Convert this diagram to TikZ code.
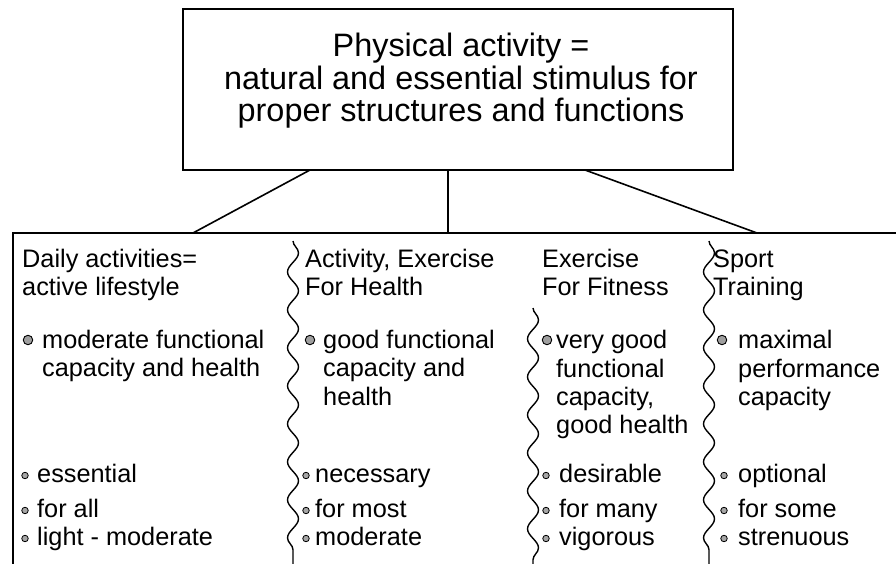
\documentclass[tikz,border=0pt]{standalone}
\usepackage{fontspec}
\setmainfont{Liberation Sans}
\usetikzlibrary{decorations.pathmorphing}

\tikzset{
  rule/.style={line width=1.6pt},
  topbox/.style={draw, rule, minimum width=550pt, minimum height=161pt, inner sep=0pt},
  ttl/.style={font=\fontsize{32.4}{32.4}\selectfont, anchor=base, inner sep=0pt},
  txt/.style={font=\fontsize{25.3}{28.5}\selectfont, anchor=base west, inner sep=0pt},
  bigdot/.style={circle, draw, fill=gray!75, line width=0.9pt, minimum size=9.5pt, inner sep=0pt},
  smalldot/.style={circle, draw, fill=gray!70, line width=0.8pt, minimum size=6.5pt, inner sep=0pt},
  wave/.style={line width=1.4pt, decorate,
    decoration={snake, amplitude=5.5pt, segment length=38pt}},
}

\begin{document}
\begin{tikzpicture}[x=1pt, y=-1pt]
\useasboundingbox (0,0) rectangle (896,564);

% heading box
\node[topbox] (top) at (458,89.5) {};
\node[ttl] (t1) at (461,57)  {Physical activity =};
\node[ttl] (t2) at (461,90)  {natural and essential stimulus for};
\node[ttl] (t3) at (461,122) {proper structures and functions};

% frame of the four columns (open to the right and below)
\coordinate (fbl) at (13,564);
\coordinate (ftl) at (13,233);
\coordinate (ftr) at (896,233);
\draw[rule] (fbl) -- (ftl) -- (ftr);

% connectors from the heading box to the frame
\coordinate (u1) at (310,170);
\coordinate (u2) at (448,170);
\coordinate (u3) at (585,170);
\coordinate (v1) at (193,233);
\coordinate (v2) at (448,233);
\coordinate (v3) at (757,233);
\draw[rule] (u1) -- (v1);
\draw[rule] (u2) -- (v2);
\draw[rule] (u3) -- (v3);

% wavy column dividers
\coordinate (wa1) at (293,241);
\coordinate (wa2) at (293,566);
\coordinate (wb1) at (533,308);
\coordinate (wb2) at (533,566);
\coordinate (wc1) at (709,241);
\coordinate (wc2) at (709,566);
\draw[wave] (wa1) -- (wa2);
\draw[wave] (wb1) -- (wb2);
\draw[wave] (wc1) -- (wc2);

% column 1
\node[txt] (h1a) at (22,267) {Daily activities=};
\node[txt] (h1b) at (22,295) {active lifestyle};
\node[bigdot] (d1) at (28,340) {};
\node[txt] (p1a) at (42,348) {moderate functional};
\node[txt] (p1b) at (42,376) {capacity and health};
\node[smalldot] (s1a) at (25,475.5) {};
\node[smalldot] (s1b) at (25,510.5) {};
\node[smalldot] (s1c) at (25,538.5) {};
\node[txt] (q1a) at (37,482) {essential};
\node[txt] (q1b) at (37,517) {for all};
\node[txt] (q1c) at (37,545) {light - moderate};

% column 2
\node[txt] (h2a) at (305,267) {Activity, Exercise};
\node[txt] (h2b) at (305,295) {For Health};
\node[bigdot] (d2) at (310,340) {};
\node[txt] (p2a) at (323,348) {good functional};
\node[txt] (p2b) at (323,376) {capacity and};
\node[txt] (p2c) at (323,405) {health};
\node[smalldot] (s2a) at (306,475.5) {};
\node[smalldot] (s2b) at (306,510.5) {};
\node[smalldot] (s2c) at (306,538.5) {};
\node[txt] (q2a) at (315,482) {necessary};
\node[txt] (q2b) at (315,517) {for most};
\node[txt] (q2c) at (315,545) {moderate};

% column 3
\node[txt] (h3a) at (542,267) {Exercise};
\node[txt] (h3b) at (542,295) {For Fitness};
\node[bigdot] (d3) at (547,340) {};
\node[txt] (p3a) at (556,348) {very good};
\node[txt] (p3b) at (556,377) {functional};
\node[txt] (p3c) at (556,405) {capacity,};
\node[txt] (p3d) at (556,433) {good health};
\node[smalldot] (s3a) at (546,475.5) {};
\node[smalldot] (s3b) at (546,510.5) {};
\node[smalldot] (s3c) at (546,538.5) {};
\node[txt] (q3a) at (559,482) {desirable};
\node[txt] (q3b) at (559,517) {for many};
\node[txt] (q3c) at (559,545) {vigorous};

% column 4
\node[txt] (h4a) at (713,267) {Sport};
\node[txt] (h4b) at (713,295) {Training};
\node[bigdot] (d4) at (722,340) {};
\node[txt] (p4a) at (738,348) {maximal};
\node[txt] (p4b) at (738,377) {performance};
\node[txt] (p4c) at (738,405) {capacity};
\node[smalldot] (s4a) at (724,475.5) {};
\node[smalldot] (s4b) at (724,510.5) {};
\node[smalldot] (s4c) at (724,538.5) {};
\node[txt] (q4a) at (738,482) {optional};
\node[txt] (q4b) at (738,517) {for some};
\node[txt] (q4c) at (738,545) {strenuous};
\end{tikzpicture}
\end{document}
